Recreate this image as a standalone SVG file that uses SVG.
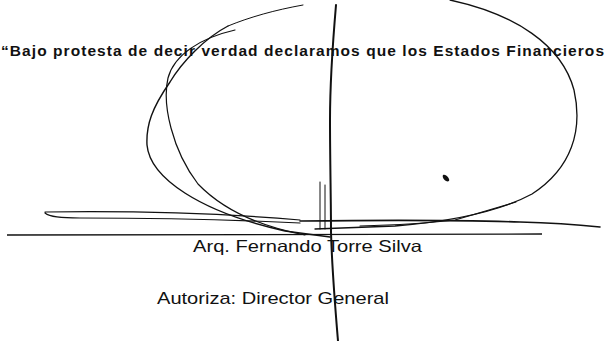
<svg xmlns="http://www.w3.org/2000/svg" width="606" height="341" viewBox="0 0 606 341">
<style>
.t{font-family:"Liberation Sans",Arial,sans-serif;fill:#111}
.b{font-weight:bold}
.s{fill:none;stroke:#111;stroke-linecap:round;stroke-linejoin:round}
</style>
<rect width="606" height="341" fill="#fff"/>
<g id="texts">
<text class="t b" x="1" y="56" font-size="15.5" textLength="603" lengthAdjust="spacing">“Bajo protesta de decir verdad declaramos que los Estados Financieros</text>
<text class="t" x="193" y="252" font-size="16.5" textLength="229" lengthAdjust="spacingAndGlyphs">Arq. Fernando Torre Silva</text>
<text class="t" x="157" y="304" font-size="17" textLength="232" lengthAdjust="spacingAndGlyphs">Autoriza: Director General</text>
</g>
<g id="rule">
<line x1="7" y1="235" x2="542" y2="234" stroke="#111" stroke-width="1.3"/>
</g>
<g id="signature">
<path class="s" stroke-width="1" d="M303,5 C275,10 250,17 228,26"/>
<path class="s" stroke-width="1.4" d="M228,26 C205,38 182,62 170,82 C152,108 146,125 147,145 C150,178 200,212 285,231 L330,237"/>
<path class="s" stroke-width="1.2" d="M235,30 C200,38 174,55 168,78 C162,104 172,150 198,184 C226,213 268,228 305,235"/>
<path class="s" stroke-width="1.3" d="M450,0 C515,14 562,45 574,90 C583,130 572,168 532,194 C495,214 445,222 395,226 L315,229"/>
<path class="s" stroke-width="1.2" d="M516,202 C495,208 475,214 455,220 C430,223 400,225 360,226"/>
<path class="s" stroke-width="1.6" d="M300,221 C380,220 460,220 520,222 C555,223 580,225 600,227"/>
<path class="s" stroke-width="1.2" d="M45,212 C120,211 220,213 300,220 M45,213 C50,217 60,218 80,218 C150,218 240,220 300,223"/>
<path class="s" stroke-width="2" d="M336,5 C333,40 330,85 330,120 C330,160 331,200 331,232 C332,270 335,305 338,341"/>
<path class="s" stroke-width="1" d="M320,182 L320,229 M325,185 L325,229"/>
<path fill="#111" d="M443,175 C446,174 448,177 449,179 C450,181 448,182 446,181 C444,180 442,177 443,175 Z"/>
</g>
</svg>
